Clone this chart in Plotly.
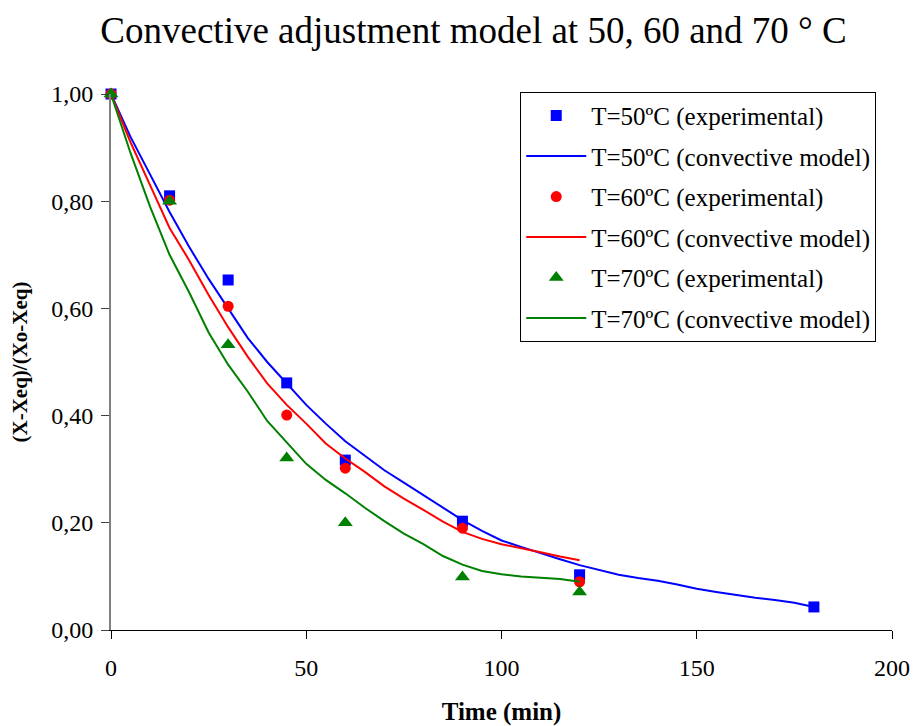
import plotly.graph_objects as go

# Experimental data
t_exp_50 = [0, 15, 30, 45, 60, 90, 120, 180]
y_exp_50 = [1.00, 0.81, 0.653, 0.461, 0.317, 0.203, 0.103, 0.043]
t_exp_60 = [0, 15, 30, 45, 60, 90, 120]
y_exp_60 = [1.00, 0.802, 0.604, 0.401, 0.302, 0.19, 0.09]
t_exp_70 = [0, 15, 30, 45, 60, 90, 120]
y_exp_70 = [1.00, 0.80, 0.532, 0.321, 0.20, 0.099, 0.071]

# Convective model curves
t_mod_50 = [0, 5, 10, 15, 20, 25, 30, 35, 40, 45, 50, 55, 60, 65, 70, 75, 80, 85, 90,
            95, 100, 105, 110, 115, 120, 125, 130, 135, 140, 145, 150, 155, 160, 165,
            170, 175, 180]
y_mod_50 = [1.0, 0.92, 0.85, 0.78, 0.715, 0.655, 0.60, 0.545, 0.50, 0.46, 0.42, 0.385,
            0.352, 0.325, 0.298, 0.275, 0.252, 0.228, 0.205, 0.185, 0.167, 0.155, 0.143,
            0.132, 0.121, 0.112, 0.103, 0.097, 0.092, 0.085, 0.077, 0.071, 0.065, 0.060,
            0.056, 0.051, 0.043]
t_mod_60 = [0, 5, 10, 15, 20, 25, 30, 35, 40, 45, 50, 55, 60, 65, 70, 75, 80, 85, 90,
            95, 100, 105, 110, 115, 120]
y_mod_60 = [1.0, 0.91, 0.83, 0.75, 0.69, 0.625, 0.565, 0.51, 0.46, 0.42, 0.385, 0.348,
            0.32, 0.295, 0.268, 0.245, 0.224, 0.202, 0.183, 0.17, 0.16, 0.153, 0.145,
            0.137, 0.13]
t_mod_70 = [0, 5, 10, 15, 20, 25, 30, 35, 40, 45, 50, 55, 60, 65, 70, 75, 80, 85, 90,
            95, 100, 105, 110, 115, 120]
y_mod_70 = [1.0, 0.89, 0.79, 0.70, 0.63, 0.555, 0.495, 0.445, 0.39, 0.35, 0.31, 0.28,
            0.255, 0.228, 0.203, 0.18, 0.16, 0.138, 0.122, 0.11, 0.104, 0.10, 0.098,
            0.095, 0.09]

x_ticks = [0, 50, 100, 150, 200]
y_ticks = [0, 0.2, 0.4, 0.6, 0.8, 1.0]

FONT = "Liberation Serif, Times New Roman, serif"

fig = go.Figure()
fig.add_trace(go.Scatter(x=t_exp_50, y=y_exp_50, mode="markers", name="T=50ºC (experimental)",
                         marker=dict(symbol="square", size=11, color="#0000FF"), legendgroup="a"))
fig.add_trace(go.Scatter(x=t_mod_50, y=y_mod_50, mode="lines", name="T=50ºC (convective model)",
                         line=dict(color="#0000FF", width=2), legendgroup="b"))
fig.add_trace(go.Scatter(x=t_exp_60, y=y_exp_60, mode="markers", name="T=60ºC (experimental)",
                         marker=dict(symbol="circle", size=11, color="#FF0000"), legendgroup="c"))
fig.add_trace(go.Scatter(x=t_mod_60, y=y_mod_60, mode="lines", name="T=60ºC (convective model)",
                         line=dict(color="#FF0000", width=2), legendgroup="d"))
fig.add_trace(go.Scatter(x=t_exp_70, y=y_exp_70, mode="markers", name="T=70ºC (experimental)",
                         marker=dict(symbol="triangle-up", size=13, color="#008000"), legendgroup="e"))
fig.add_trace(go.Scatter(x=t_mod_70, y=y_mod_70, mode="lines", name="T=70ºC (convective model)",
                         line=dict(color="#008000", width=2), legendgroup="f"))

for tr in fig.data:
    tr.cliponaxis = False

fig.update_layout(
    width=916, height=726,
    margin=dict(l=111, r=24, t=94, b=96),
    paper_bgcolor="white", plot_bgcolor="white",
    separators=",.",
    font=dict(family=FONT, size=24, color="black"),
    title=dict(text="Convective adjustment model at 50, 60 and 70 ° C",
               x=0.517, xanchor="center", y=0.958, yanchor="middle",
               font=dict(family=FONT, size=37, color="black")),
    showlegend=True,
    legend=dict(x=0.524, y=1.004, xanchor="left", yanchor="top",
                bgcolor="white", bordercolor="black", borderwidth=1,
                font=dict(family=FONT, size=25, color="black"),
                tracegroupgap=5, itemwidth=60),
    xaxis=dict(range=[0, 200], tickvals=x_ticks, ticktext=[str(v) for v in x_ticks],
               automargin=False,
               showgrid=False, zeroline=False, showline=True, linecolor="black", linewidth=1,
               ticks="outside", ticklen=8, tickcolor="black", ticklabelstandoff=8,
               tickfont=dict(family=FONT, size=24),
               title=dict(text="<b>Time (min)</b>", font=dict(family=FONT, size=25), standoff=30)),
    yaxis=dict(range=[0, 1], tickvals=y_ticks, tickformat=".2f",
               automargin=False,
               showgrid=False, zeroline=False, showline=True, linecolor="#808080", linewidth=2,
               ticks="outside", ticklen=8, tickcolor="#404040", ticklabelstandoff=3,
               tickfont=dict(family=FONT, size=24),
               title=dict(text="<b>(X-Xeq)/(Xo-Xeq)</b>", font=dict(family=FONT, size=21), standoff=18)),
)

fig.write_html("out.html",
               config={"displayModeBar": False},
               post_script="document.body.style.margin='0';document.body.style.overflow='hidden';")
